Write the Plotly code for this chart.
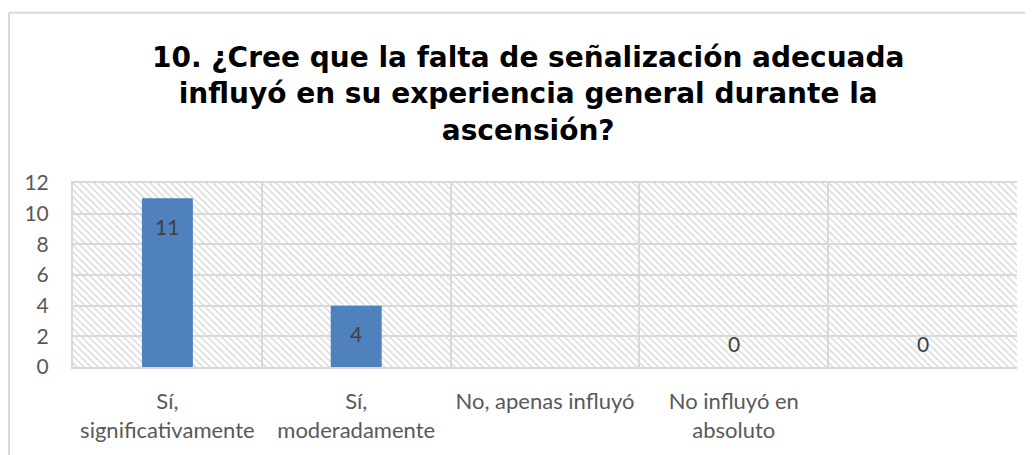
import base64
import plotly.graph_objects as go

categories = ["Sí,<br>significativamente", "Sí,<br>moderadamente", "No, apenas influyó",
              "No influyó en<br>absoluto", " "]
values = [11, 4, None, 0, 0]
y_ticks = [0, 2, 4, 6, 8, 10, 12]
title_text = ("10. ¿Cree que la falta de señalización adecuada<br>"
              "influyó en su experiencia general durante la<br>ascensión?")

# page body has an 8px margin; figure coordinates are offset by that
OFF = 8
W, H = 1033 - OFF, 455 - OFF
ML, MT = 73 - OFF, 183 - OFF
MR = W - (1017 - OFF)
MB = H - (369 - OFF)
PW, PH = W - ML - MR, H - MT - MB

bar_color = "#4F81BD"
grid_color = "#D9D9D9"
label_color = "#595959"
font_body = "Lato, Carlito, sans-serif"

# diagonal hatch background (decorative)
svg = (f'<svg xmlns="http://www.w3.org/2000/svg" width="{PW}" height="{PH}" '
       f'viewBox="0 0 {PW} {PH}">'
       '<defs><pattern id="h" patternUnits="userSpaceOnUse" width="7" height="7">'
       '<path d="M-1,-1 L8,8 M-8,-1 L1,8 M6,-1 L15,8" stroke="#D6D6D6" stroke-width="1.3"/>'
       '</pattern></defs>'
       f'<rect width="{PW}" height="{PH}" fill="url(#h)"/></svg>')
svg_uri = "data:image/svg+xml;base64," + base64.b64encode(svg.encode()).decode()

fig = go.Figure()
fig.add_trace(go.Bar(
    x=categories, y=values, marker=dict(color=bar_color, line=dict(width=0)),
    width=0.27, hoverinfo="x+y",
))

for c, v in zip(categories, values):
    if v is None:
        continue
    fig.add_annotation(x=c, y=v, text=str(v), showarrow=False,
                       yshift=-28 if v > 0 else 24,
                       font=dict(family=font_body, size=21, color="#404040"))

fig.add_layout_image(dict(source=svg_uri, xref="paper", yref="paper", x=0, y=1,
                          sizex=1, sizey=1, sizing="stretch", layer="below",
                          xanchor="left", yanchor="top"))

def px_x(px):
    return (px - OFF - ML) / PW

def px_y(py):
    return (PH - (py - OFF - MT)) / PH

# chart border (left & top)
bx, by = px_x(9), px_y(11)
fig.add_shape(type="line", xref="paper", yref="paper", x0=bx, x1=bx, y0=by, y1=-1,
              line=dict(color=grid_color, width=2))
fig.add_shape(type="line", xref="paper", yref="paper", x0=bx, x1=1.2, y0=by, y1=by,
              line=dict(color=grid_color, width=2))

# title
fig.add_annotation(text=title_text, xref="paper", yref="paper",
                   x=px_x(528), y=px_y(93), xanchor="center", yanchor="middle",
                   showarrow=False,
                   font=dict(family="DejaVu Sans, sans-serif", size=28,
                             color="#000000", weight="bold"))

fig.update_layout(
    width=W, height=H,
    margin=dict(l=ML, r=MR, t=MT, b=MB),
    paper_bgcolor="white", plot_bgcolor="rgba(0,0,0,0)",
    showlegend=False,
    xaxis=dict(type="category", tickson="boundaries", showgrid=True,
               gridcolor=grid_color, gridwidth=2, showline=True, linecolor=grid_color,
               linewidth=2, mirror=True, ticks="", ticklen=0, ticklabelstandoff=14,
               tickfont=dict(family=font_body, size=22, color=label_color),
               range=[-0.5, 4.5], fixedrange=True),
    yaxis=dict(range=[0, 12], tickvals=y_ticks, showgrid=True, gridcolor=grid_color,
               gridwidth=2, showline=True, linecolor=grid_color, linewidth=2,
               zeroline=False, ticks="", ticklabelstandoff=18,
               tickfont=dict(family=font_body, size=21, color=label_color),
               fixedrange=True),
)

fig.write_html("out.html")
